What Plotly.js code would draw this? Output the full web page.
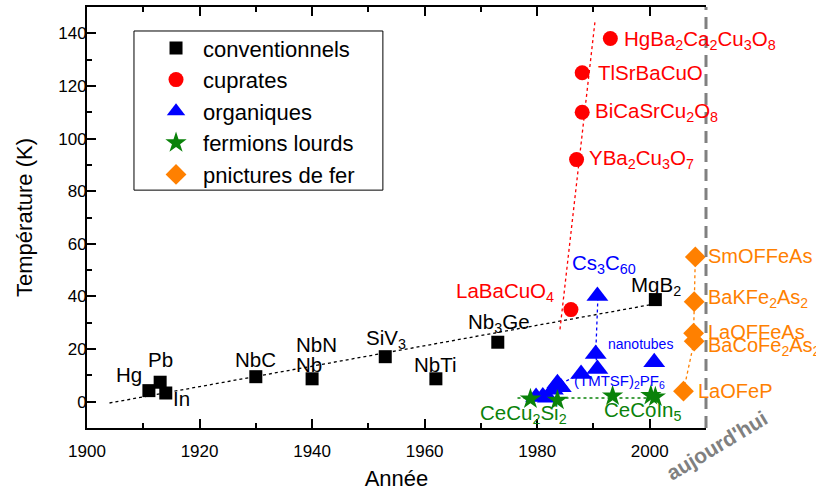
<!DOCTYPE html>
<html><head><meta charset="utf-8">
<script src="https://cdn.plot.ly/plotly-3.0.1.min.js"></script>
<style>html,body{margin:0;padding:0;background:#fff}#chart{width:816px;height:493px}</style>
</head><body><div id="chart"></div>
<script>
// ---- data ----
const convNames = ['Hg','Pb','In','NbC','Nb','SiV3','NbTi','Nb3Ge','MgB2'];
const convYear  = [1911, 1913, 1914, 1930, 1940, 1953, 1962, 1973, 2001];
const convTc    = [4.2, 7.4, 3.3, 9.5, 8.7, 17.1, 8.7, 22.6, 38.8];
const convFitYear = [1904, 2000.5];
const convFitTc   = [-0.5, 37];

const cupNames = ['LaBaCuO4','YBa2Cu3O7','BiCaSrCu2O8','TlSrBaCuO','HgBa2Ca2Cu3O8'];
const cupYear  = [1986, 1987, 1988, 1988, 1993];
const cupTc    = [35, 92, 110, 125, 138];
const cupFitYear = [1984.05, 1990.3];
const cupFitTc   = [27.5, 145];

const orgYear = [1979.8, 1981, 1981.9, 1982.8, 1983.6, 1984.2, 1987.8, 1990.7, 1990.4, 1990.7, 2000.8];
const orgTc   = [1.8, 2.0, 1.5, 4.5, 7.0, 5.5, 10.5, 12.4, 18.1, 40.2, 15.0];
const orgRecYear = [1984.2, 1987.8, 1990.7, 1990.4, 1990.8];
const orgRecTc   = [7.0, 10.5, 12.4, 18.1, 40.2];

const hfYear = [1978.8, 1983.6, 1993.4, 2000.2, 2001];
const hfTc   = [1.0, 0.6, 2.2, 2.4, 1.8];
const hfFitYear = [1976.5, 2002];
const hfFitTc   = [1.4, 1.4];

const feNames = ['LaOFeP','BaCoFe2As2','LaOFFeAs','BaKFe2As2','SmOFFeAs'];
const feYear  = [2006, 2007.9, 2007.8, 2007.9, 2008.1];
const feTc    = [4, 23, 26, 38, 55];

const today = 2010;

const xTickVals = [1900, 1920, 1940, 1960, 1980, 2000];
const yTickVals = [0, 20, 40, 60, 80, 100, 120, 140];

// ---- colours ----
const BLACK = '#000000', RED = '#ff0000', BLUE = '#0000ff', GREEN = '#0a820a', ORANGE = '#ff8000';
const FONT = 'Liberation Sans, Arial, Helvetica, sans-serif';

const traces = [
  {x: convFitYear, y: convFitTc, mode:'lines', line:{color:BLACK, width:1.3, dash:'dot'}, showlegend:false, hoverinfo:'skip'},
  {x: cupFitYear, y: cupFitTc, mode:'lines', line:{color:RED, width:1.3, dash:'dot'}, showlegend:false, hoverinfo:'skip'},
  {x: orgRecYear, y: orgRecTc, mode:'lines', line:{color:BLUE, width:1.3, dash:'dot'}, showlegend:false, hoverinfo:'skip'},
  {x: hfFitYear, y: hfFitTc, mode:'lines', line:{color:GREEN, width:1.3, dash:'dot'}, showlegend:false, hoverinfo:'skip'},
  {x: feYear, y: feTc, mode:'lines', line:{color:ORANGE, width:1.3, dash:'dot'}, showlegend:false, hoverinfo:'skip'},
  {x: convYear, y: convTc, text: convNames, name:'conventionnels', mode:'markers', marker:{symbol:'square', size:13, color:BLACK}, legendgroup:'a', cliponaxis:false},
  {x: cupYear, y: cupTc, text: cupNames, name:'cuprates', mode:'markers', marker:{symbol:'circle', size:15, color:RED}, legendgroup:'b', cliponaxis:false},
  {x: orgYear, y: orgTc, name:'organiques', mode:'markers', marker:{symbol:'triangle-up', size:19, color:BLUE}, legendgroup:'c', cliponaxis:false},
  {x: hfYear, y: hfTc, name:'fermions lourds', mode:'markers', marker:{symbol:'star', size:16, color:GREEN}, legendgroup:'d', cliponaxis:false},
  {x: feYear, y: feTc, text: feNames, name:'pnictures de fer', mode:'markers', marker:{symbol:'diamond', size:16, color:ORANGE}, legendgroup:'e', cliponaxis:false}
];

function lab(text, x, y, color, anchor, size) {
  return {text, x, y, xref:'x', yref:'y', showarrow:false, xanchor: anchor || 'left', yanchor:'middle',
          font:{family:FONT, size: size || 20.5, color}};
}
// labels placed just right of the "today" line (outside the data range) use paper x
function labR(text, y, color) {
  return {text, x:1.0, y, xref:'paper', yref:'y', showarrow:false, xanchor:'left', yanchor:'middle',
          font:{family:FONT, size:20, color}};
}
const annotations = [
  lab('Hg', 1907.5, 10.5, BLACK, 'center'),
  lab('Pb', 1913.1, 15.9, BLACK, 'center'),
  lab('In', 1915.0, 1.4, BLACK, 'left'),
  lab('NbC', 1929.9, 15.9, BLACK, 'center'),
  lab('NbN', 1936.8, 21.8, BLACK, 'left'),
  lab('Nb', 1936.8, 14.1, BLACK, 'left'),
  lab('SiV<sub>3</sub>', 1949.3, 23.8, BLACK, 'left'),
  lab('NbTi', 1961.9, 14.3, BLACK, 'center'),
  lab('Nb<sub>3</sub>Ge', 1967.4, 29.9, BLACK, 'left'),
  lab('MgB<sub>2</sub>', 1996.4, 44, BLACK, 'left'),
  lab('LaBaCuO<sub>4</sub>', 1983.4, 41.5, RED, 'right'),
  lab('YBa<sub>2</sub>Cu<sub>3</sub>O<sub>7</sub>', 1988.8, 92.3, RED, 'left'),
  lab('BiCaSrCu<sub>2</sub>O<sub>8</sub>', 1990.0, 110, RED, 'left'),
  lab('TlSrBaCuO', 1990.4, 125, RED, 'left'),
  lab('HgBa<sub>2</sub>Ca<sub>2</sub>Cu<sub>3</sub>O<sub>8</sub>', 1995.0, 137.5, RED, 'left'),
  lab('Cs<sub>3</sub>C<sub>60</sub>', 1985.8, 52.5, BLUE, 'left'),
  lab('nanotubes', 1998.3, 21.9, BLUE, 'center', 14),
  lab('(TMTSF)<sub>2</sub>PF<sub>6</sub>', 1986.1, 7.6, BLUE, 'left', 15),
  lab('CeCu<sub>2</sub>Si<sub>2</sub>', 1969.4, -4.7, GREEN, 'left'),
  lab('CeCoIn<sub>5</sub>', 1991.5, -3.6, GREEN, 'left'),
  labR('SmOFFeAs', 55.4, ORANGE),
  labR('BaKFe<sub>2</sub>As<sub>2</sub>', 39.4, ORANGE),
  labR('LaOFFeAs', 26.6, ORANGE),
  labR('BaCoFe<sub>2</sub>As<sub>2</sub>', 20.8, ORANGE),
  lab('LaOFeP', 2008.2, 4.1, ORANGE, 'left', 20),
  {text:"<b>aujourd'hui</b>", xref:'paper', yref:'paper', x:1.017, y:-0.041, showarrow:false,
   textangle:-31, xanchor:'center', yanchor:'middle', font:{family:FONT, size:21, color:'#808080'}}
];

const layout = {
  width: 816, height: 493,
  margin: {l:87, r:110, t:7, b:65},
  paper_bgcolor:'#ffffff', plot_bgcolor:'#ffffff',
  font: {family: FONT, color: BLACK},
  showlegend: true,
  legend: {x:0.1002, y:0.952, xanchor:'left', yanchor:'top', borderwidth:0,
           bgcolor:'rgba(0,0,0,0)', font:{family:FONT, size:22}, itemwidth:44, tracegroupgap:0, traceorder:'normal'},
  xaxis: {range:[1900, today], tickvals: xTickVals, ticks:'inside', ticklen:9, tickwidth:2, tickcolor:BLACK,
          showline:true, linewidth:2, linecolor:BLACK, mirror:'ticks', showgrid:false, zeroline:false,
          minor:{dtick:10, tick0:1900, ticks:'inside', ticklen:5, tickwidth:2, tickcolor:BLACK},
          tickfont:{size:17, family:FONT}, ticklabelstandoff:7,
          title:{text:'Année', font:{size:22, family:FONT}, standoff:10}},
  yaxis: {range:[-10, 150], tickvals: yTickVals, ticks:'inside', ticklen:9, tickwidth:2, tickcolor:BLACK,
          showline:true, linewidth:2, linecolor:BLACK, mirror:false, showgrid:false, zeroline:false,
          minor:{dtick:10, tick0:0, ticks:'inside', ticklen:5, tickwidth:2, tickcolor:BLACK},
          tickfont:{size:17, family:FONT}, ticklabelstandoff:-5,
          title:{text:'Température (K)', font:{size:22, family:FONT}, standoff:20}},
  shapes: [
    {type:'line', xref:'paper', yref:'paper', x0:1, x1:1, y0:0, y1:1,
     line:{color:'#808080', width:3, dash:'12px,7px'}},
    // legend frame
    {type:'rect', xref:'paper', yref:'paper', x0:0.0759, x1:0.478, y0:0.565, y1:0.943,
     line:{color:BLACK, width:1}, fillcolor:'#ffffff', layer:'above'}
  ],
  annotations
};

Plotly.newPlot('chart', traces, layout, {staticPlot:true, displayModeBar:false});
</script>
</body></html>
